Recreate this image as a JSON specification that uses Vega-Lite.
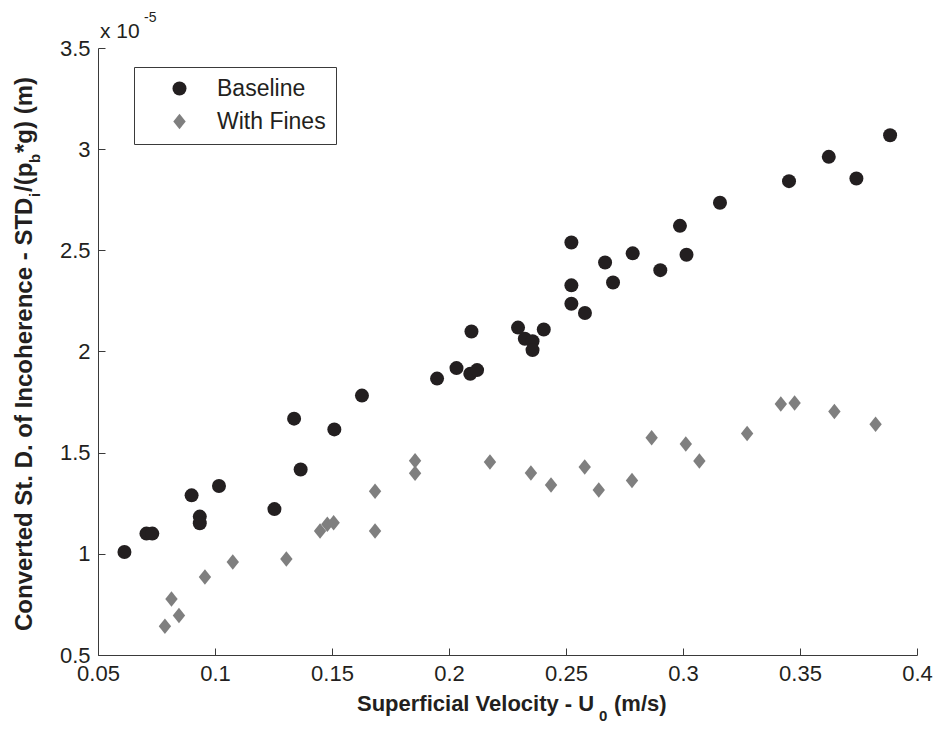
{
  "$schema": "https://vega.github.io/schema/vega-lite/v6.json",
  "autosize": {"type": "none"},
  "padding": {"left": 98, "top": 48, "right": 23, "bottom": 75},
  "width": 819,
  "height": 607,
  "background": "white",
  "datasets": {
    "points": [
      {"series": "Baseline", "u0": 0.0613, "std": 1.009e-5},
      {"series": "Baseline", "u0": 0.0707, "std": 1.100e-5},
      {"series": "Baseline", "u0": 0.0732, "std": 1.100e-5},
      {"series": "Baseline", "u0": 0.0900, "std": 1.289e-5},
      {"series": "Baseline", "u0": 0.0935, "std": 1.184e-5},
      {"series": "Baseline", "u0": 0.0935, "std": 1.151e-5},
      {"series": "Baseline", "u0": 0.1017, "std": 1.335e-5},
      {"series": "Baseline", "u0": 0.1254, "std": 1.221e-5},
      {"series": "Baseline", "u0": 0.1338, "std": 1.668e-5},
      {"series": "Baseline", "u0": 0.1366, "std": 1.417e-5},
      {"series": "Baseline", "u0": 0.1510, "std": 1.615e-5},
      {"series": "Baseline", "u0": 0.1628, "std": 1.782e-5},
      {"series": "Baseline", "u0": 0.1949, "std": 1.866e-5},
      {"series": "Baseline", "u0": 0.2032, "std": 1.918e-5},
      {"series": "Baseline", "u0": 0.2091, "std": 1.890e-5},
      {"series": "Baseline", "u0": 0.2120, "std": 1.908e-5},
      {"series": "Baseline", "u0": 0.2096, "std": 2.099e-5},
      {"series": "Baseline", "u0": 0.2295, "std": 2.118e-5},
      {"series": "Baseline", "u0": 0.2324, "std": 2.063e-5},
      {"series": "Baseline", "u0": 0.2357, "std": 2.051e-5},
      {"series": "Baseline", "u0": 0.2357, "std": 2.007e-5},
      {"series": "Baseline", "u0": 0.2405, "std": 2.109e-5},
      {"series": "Baseline", "u0": 0.2523, "std": 2.539e-5},
      {"series": "Baseline", "u0": 0.2523, "std": 2.327e-5},
      {"series": "Baseline", "u0": 0.2523, "std": 2.236e-5},
      {"series": "Baseline", "u0": 0.2581, "std": 2.190e-5},
      {"series": "Baseline", "u0": 0.2667, "std": 2.440e-5},
      {"series": "Baseline", "u0": 0.2701, "std": 2.341e-5},
      {"series": "Baseline", "u0": 0.2785, "std": 2.485e-5},
      {"series": "Baseline", "u0": 0.2903, "std": 2.402e-5},
      {"series": "Baseline", "u0": 0.2987, "std": 2.621e-5},
      {"series": "Baseline", "u0": 0.3015, "std": 2.478e-5},
      {"series": "Baseline", "u0": 0.3158, "std": 2.735e-5},
      {"series": "Baseline", "u0": 0.3453, "std": 2.842e-5},
      {"series": "Baseline", "u0": 0.3623, "std": 2.962e-5},
      {"series": "Baseline", "u0": 0.3741, "std": 2.855e-5},
      {"series": "Baseline", "u0": 0.3885, "std": 3.069e-5},
      {"series": "With Fines", "u0": 0.0786, "std": 0.642e-5},
      {"series": "With Fines", "u0": 0.0814, "std": 0.777e-5},
      {"series": "With Fines", "u0": 0.0846, "std": 0.695e-5},
      {"series": "With Fines", "u0": 0.0957, "std": 0.885e-5},
      {"series": "With Fines", "u0": 0.1076, "std": 0.960e-5},
      {"series": "With Fines", "u0": 0.1305, "std": 0.974e-5},
      {"series": "With Fines", "u0": 0.1449, "std": 1.113e-5},
      {"series": "With Fines", "u0": 0.1480, "std": 1.146e-5},
      {"series": "With Fines", "u0": 0.1507, "std": 1.154e-5},
      {"series": "With Fines", "u0": 0.1684, "std": 1.309e-5},
      {"series": "With Fines", "u0": 0.1684, "std": 1.113e-5},
      {"series": "With Fines", "u0": 0.1855, "std": 1.460e-5},
      {"series": "With Fines", "u0": 0.1855, "std": 1.398e-5},
      {"series": "With Fines", "u0": 0.2175, "std": 1.454e-5},
      {"series": "With Fines", "u0": 0.2350, "std": 1.399e-5},
      {"series": "With Fines", "u0": 0.2436, "std": 1.340e-5},
      {"series": "With Fines", "u0": 0.2580, "std": 1.429e-5},
      {"series": "With Fines", "u0": 0.2640, "std": 1.315e-5},
      {"series": "With Fines", "u0": 0.2782, "std": 1.362e-5},
      {"series": "With Fines", "u0": 0.2866, "std": 1.574e-5},
      {"series": "With Fines", "u0": 0.3012, "std": 1.543e-5},
      {"series": "With Fines", "u0": 0.3070, "std": 1.459e-5},
      {"series": "With Fines", "u0": 0.3274, "std": 1.595e-5},
      {"series": "With Fines", "u0": 0.3418, "std": 1.740e-5},
      {"series": "With Fines", "u0": 0.3477, "std": 1.745e-5},
      {"series": "With Fines", "u0": 0.3647, "std": 1.703e-5},
      {"series": "With Fines", "u0": 0.3823, "std": 1.640e-5}
    ]
  },
  "layer": [
    {
      "data": {"name": "points"},
      "mark": {"type": "point", "filled": true, "opacity": 1, "strokeWidth": 0},
      "encoding": {
        "x": {
          "field": "u0", "type": "quantitative",
          "scale": {"domain": [0.05, 0.4], "nice": false, "zero": false},
          "axis": {
            "title": null,
            "values": [0.05, 0.1, 0.15, 0.2, 0.25, 0.3, 0.35, 0.4],
            "format": ".2~f",
            "labelPadding": 15
          }
        },
        "y": {
          "field": "std", "type": "quantitative",
          "scale": {"domain": [0.000005, 0.000035], "nice": false, "zero": false},
          "axis": {
            "title": null,
            "values": [0.000005, 0.00001, 0.000015, 0.00002, 0.000025, 0.00003, 0.000035],
            "labelExpr": "format(datum.value * 100000, '.1~f')",
            "labelPadding": 15
          }
        },
        "color": {
          "field": "series", "type": "nominal",
          "scale": {"domain": ["Baseline", "With Fines"], "range": ["#231f20", "#7f7f7f"]},
          "legend": {"title": null}
        },
        "shape": {
          "field": "series", "type": "nominal",
          "scale": {"domain": ["Baseline", "With Fines"], "range": ["circle", "M-0.8,0L0,-1L0.8,0L0,1Z"]},
          "legend": {"title": null}
        },
        "size": {
          "field": "series", "type": "nominal",
          "scale": {"domain": ["Baseline", "With Fines"], "range": [196, 240]},
          "legend": {"title": null}
        }
      }
    },
    {
      "data": {"values": [{}]},
      "mark": {"type": "text", "text": "x 10", "align": "left", "baseline": "alphabetic", "fontSize": 21, "font": "Liberation Sans", "fill": "#231f20", "dx": 2, "dy": -10},
      "encoding": {"x": {"datum": 0.05, "type": "quantitative"}, "y": {"datum": 0.000035, "type": "quantitative"}}
    },
    {
      "data": {"values": [{}]},
      "mark": {"type": "text", "text": "-5", "align": "left", "baseline": "alphabetic", "fontSize": 14, "font": "Liberation Sans", "fill": "#231f20", "dx": 46, "dy": -26},
      "encoding": {"x": {"datum": 0.05, "type": "quantitative"}, "y": {"datum": 0.000035, "type": "quantitative"}}
    },
    {
      "data": {"values": [{}]},
      "mark": {"type": "text", "text": "Superficial Velocity - U", "align": "left", "baseline": "alphabetic", "fontSize": 22, "fontWeight": "bold", "font": "Liberation Sans", "fill": "#231f20", "dx": 259, "dy": 56},
      "encoding": {"x": {"datum": 0.05, "type": "quantitative"}, "y": {"datum": 0.000005, "type": "quantitative"}}
    },
    {
      "data": {"values": [{}]},
      "mark": {"type": "text", "text": "0", "align": "left", "baseline": "alphabetic", "fontSize": 15, "fontWeight": "bold", "font": "Liberation Sans", "fill": "#231f20", "dx": 501, "dy": 66},
      "encoding": {"x": {"datum": 0.05, "type": "quantitative"}, "y": {"datum": 0.000005, "type": "quantitative"}}
    },
    {
      "data": {"values": [{}]},
      "mark": {"type": "text", "text": "(m/s)", "align": "left", "baseline": "alphabetic", "fontSize": 22, "fontWeight": "bold", "font": "Liberation Sans", "fill": "#231f20", "dx": 516, "dy": 56},
      "encoding": {"x": {"datum": 0.05, "type": "quantitative"}, "y": {"datum": 0.000005, "type": "quantitative"}}
    },
    {
      "data": {"values": [{}]},
      "mark": {"type": "text", "text": "Converted St. D. of Incoherence - STD", "angle": 270, "align": "left", "baseline": "alphabetic", "fontSize": 24, "fontWeight": "bold", "font": "Liberation Sans", "fill": "#231f20", "dx": 24, "dy": -66},
      "encoding": {"x": {"datum": 0.05, "type": "quantitative"}, "y": {"datum": 0.000005, "type": "quantitative"}}
    },
    {
      "data": {"values": [{}]},
      "mark": {"type": "text", "text": "i", "angle": 270, "align": "left", "baseline": "alphabetic", "fontSize": 15, "fontWeight": "bold", "font": "Liberation Sans", "fill": "#231f20", "dx": 458, "dy": -58},
      "encoding": {"x": {"datum": 0.05, "type": "quantitative"}, "y": {"datum": 0.000005, "type": "quantitative"}}
    },
    {
      "data": {"values": [{}]},
      "mark": {"type": "text", "text": "/(p", "angle": 270, "align": "left", "baseline": "alphabetic", "fontSize": 24, "fontWeight": "bold", "font": "Liberation Sans", "fill": "#231f20", "dx": 463, "dy": -66},
      "encoding": {"x": {"datum": 0.05, "type": "quantitative"}, "y": {"datum": 0.000005, "type": "quantitative"}}
    },
    {
      "data": {"values": [{}]},
      "mark": {"type": "text", "text": "b", "angle": 270, "align": "left", "baseline": "alphabetic", "fontSize": 15, "fontWeight": "bold", "font": "Liberation Sans", "fill": "#231f20", "dx": 492, "dy": -58},
      "encoding": {"x": {"datum": 0.05, "type": "quantitative"}, "y": {"datum": 0.000005, "type": "quantitative"}}
    },
    {
      "data": {"values": [{}]},
      "mark": {"type": "text", "text": "*g) (m)", "angle": 270, "align": "left", "baseline": "alphabetic", "fontSize": 24, "fontWeight": "bold", "font": "Liberation Sans", "fill": "#231f20", "dx": 502, "dy": -66},
      "encoding": {"x": {"datum": 0.05, "type": "quantitative"}, "y": {"datum": 0.000005, "type": "quantitative"}}
    }
  ],
  "config": {
    "view": {"stroke": null},
    "font": "Liberation Sans",
    "axis": {
      "grid": false,
      "domainColor": "#3a3a3a",
      "domainWidth": 1,
      "tickColor": "#3a3a3a",
      "tickSize": -7,
      "tickWidth": 1,
      "labelFont": "Liberation Sans",
      "labelFontSize": 22,
      "labelColor": "#231f20",
      "labelFlush": false,
      "labelOverlap": false,
      "labelBound": false,
      "titleFont": "Liberation Sans",
      "titleFontSize": 23,
      "titleFontWeight": "bold",
      "titleColor": "#231f20"
    },
    "legend": {
      "orient": "none",
      "legendX": 36,
      "legendY": 19,
      "strokeColor": "#3a3a3a",
      "strokeWidth": 1,
      "fillColor": "white",
      "padding": 10,
      "rowPadding": 9,
      "symbolOffset": 24,
      "labelOffset": 26,
      "labelFont": "Liberation Sans",
      "labelFontSize": 23,
      "labelColor": "#231f20",
      "symbolStrokeWidth": 0,
      "symbolOpacity": 1
    }
  }
}
